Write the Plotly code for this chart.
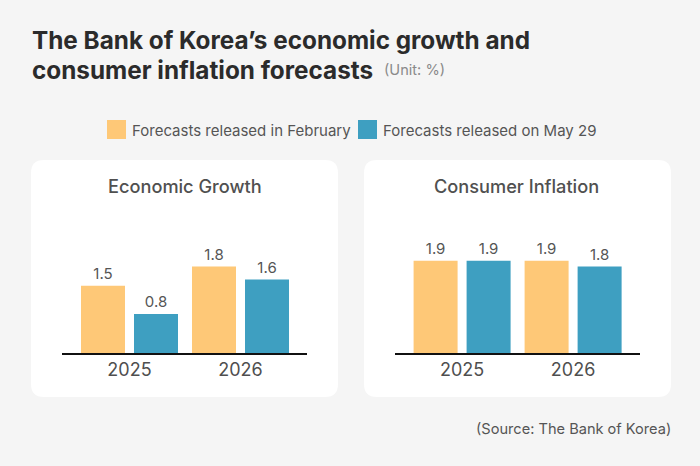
import plotly.graph_objects as go

years = ["2025", "2026"]
# bar heights as drawn in the picture, the printed labels are kept apart
growth_feb = [1.40, 1.80]
growth_may = [0.81, 1.53]
growth_feb_labels = ["1.5", "1.8"]
growth_may_labels = ["0.8", "1.6"]
inflation_feb = [1.92, 1.92]
inflation_may = [1.92, 1.80]
inflation_feb_labels = ["1.9", "1.9"]
inflation_may_labels = ["1.9", "1.8"]

feb_name = "Forecasts released in February"
may_name = "Forecasts released on May 29"

ORANGE = "#FEC877"
BLUE = "#3E9FC1"
W, H = 700, 466


def px(x):
    return x / W


def py(y):
    return 1 - y / H


def card(x0, y0, x1, y1, r=13):
    # rounded white panel, paper coordinates
    a0, a1 = px(x0), px(x1)
    b0, b1 = py(y0), py(y1)
    rx, ry = r / W, r / H
    path = (
        f"M {a0 + rx} {b0} L {a1 - rx} {b0} Q {a1} {b0} {a1} {b0 - ry} "
        f"L {a1} {b1 + ry} Q {a1} {b1} {a1 - rx} {b1} "
        f"L {a0 + rx} {b1} Q {a0} {b1} {a0} {b1 + ry} "
        f"L {a0} {b0 - ry} Q {a0} {b0} {a0 + rx} {b0} Z"
    )
    return dict(type="path", xref="paper", yref="paper", path=path,
                fillcolor="white", line_width=0, layer="below")


def swatch(x0, x1, color):
    return dict(type="rect", xref="paper", yref="paper", x0=px(x0), x1=px(x1),
                y0=py(139), y1=py(120), fillcolor=color, line_width=0)


def label(text, x, y, size, color, anchor="left", weight=400):
    return dict(text=text, xref="paper", yref="paper",
                x=px(x), y=py(y), xanchor=anchor, yanchor="middle", showarrow=False,
                font=dict(family="Inter", size=size, color=color, weight=weight))


fig = go.Figure()

panels = [
    ("x", "y", growth_feb, growth_may, growth_feb_labels, growth_may_labels),
    ("x2", "y2", inflation_feb, inflation_may, inflation_feb_labels, inflation_may_labels),
]
for xa, ya, feb, may, feb_txt, may_txt in panels:
    fig.add_trace(go.Bar(x=years, y=feb, text=feb_txt, name=feb_name, marker_color=ORANGE,
                         xaxis=xa, yaxis=ya, showlegend=False))
    fig.add_trace(go.Bar(x=years, y=may, text=may_txt, name=may_name, marker_color=BLUE,
                         xaxis=xa, yaxis=ya, showlegend=False))

fig.update_traces(textposition="outside", cliponaxis=False, marker_line_width=0,
                  textfont=dict(family="Inter", size=15, color="#555555"))

x_common = dict(type="category", range=[-0.608, 1.599], showgrid=False, ticks="",
                showline=True, linecolor="#111111", linewidth=1.5, zeroline=False,
                tickfont=dict(family="Inter", size=18, color="#4f4f4f"))
y_common = dict(range=[0, 4.02], visible=False, domain=[py(353), py(160)])

fig.update_layout(
    width=W, height=H,
    margin=dict(l=0, r=0, t=0, b=0),
    paper_bgcolor="#F5F5F5",
    plot_bgcolor="rgba(0,0,0,0)",
    barmode="group", bargap=0.045, bargroupgap=0.17,
    xaxis=dict(domain=[px(62), px(307)], anchor="y", **x_common),
    xaxis2=dict(domain=[px(394.6), px(639.6)], anchor="y2", **x_common),
    yaxis=dict(anchor="x", **y_common),
    yaxis2=dict(anchor="x2", **y_common),
    shapes=[
        card(31, 160, 338, 397),
        card(364, 160, 671, 397),
        swatch(107, 126, ORANGE),
        swatch(358, 377, BLUE),
    ],
    annotations=[
        label("The Bank of Korea’s economic growth and", 30, 40, 24.3, "#2b2b2b", weight=700),
        label("consumer inflation forecasts", 30, 70, 24.3, "#2b2b2b", weight=700),
        label("(Unit: %)", 382, 70, 14.6, "#8a8a8a"),
        label(feb_name, 129.5, 130, 15, "#555555"),
        label(may_name, 380.5, 130, 15, "#555555"),
        label("Economic Growth", 185, 186.5, 18.2, "#505050", "center", weight=500),
        label("Consumer Inflation", 516, 186.5, 18.2, "#505050", "center", weight=500),
        label("(Source: The Bank of Korea)", 673, 429, 14.6, "#555555", "right"),
    ],
)

fig.write_html("out.html", post_script="document.body.style.margin='0';",
               config=dict(displayModeBar=False))
